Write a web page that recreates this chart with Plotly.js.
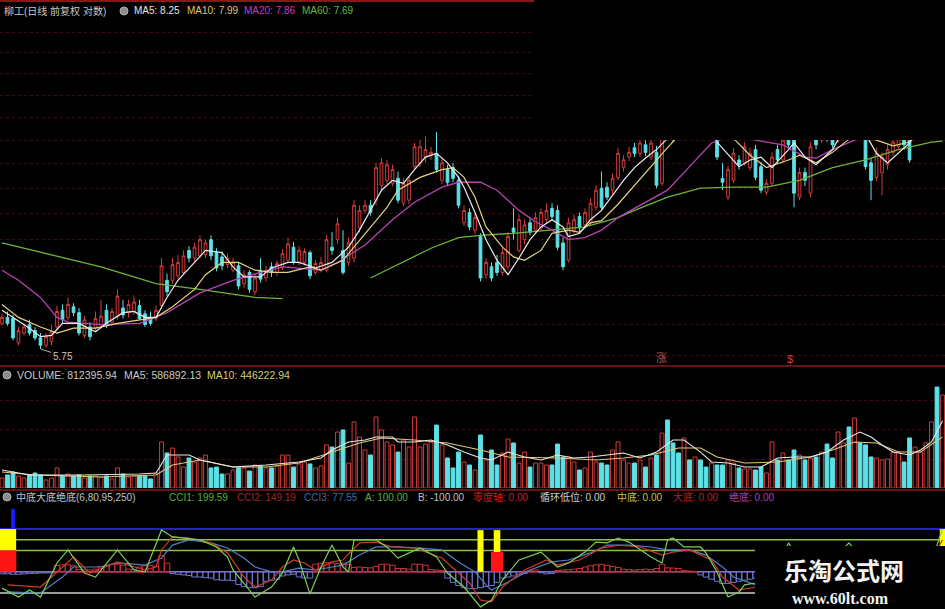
<!DOCTYPE html>
<html><head><meta charset="utf-8">
<script src="https://cdn.plot.ly/plotly-3.0.1.min.js"></script>
<style>html,body{margin:0;padding:0;background:#000;}#chart{width:945px;height:609px;}</style>
</head><body><div id="chart"></div>
<script>
// ---------- DATA ----------
const N = 172;
const openP = [5.96,6.01,6.00,5.80,5.88,5.95,5.90,5.84,5.78,5.81,5.93,6.07,6.01,6.10,6.05,5.86,5.93,5.92,5.95,6.07,5.97,6.02,6.09,6.05,6.06,6.11,6.04,6.01,6.00,6.11,6.33,6.33,6.37,6.40,6.60,6.53,6.55,6.56,6.70,6.58,6.54,6.47,6.42,6.46,6.30,6.40,6.23,6.42,6.35,6.45,6.40,6.45,6.51,6.63,6.49,6.49,6.58,6.40,6.42,6.42,6.63,6.70,6.60,6.49,6.53,6.81,6.98,7.03,7.08,7.23,7.28,7.25,7.30,7.05,7.08,7.42,7.46,7.52,7.54,7.56,7.28,7.39,7.41,7.28,6.86,6.96,6.79,6.73,6.38,6.45,6.49,6.40,6.45,6.81,6.60,6.70,6.86,6.79,6.81,6.89,7.00,6.98,6.67,6.51,6.79,6.92,6.84,6.86,7.01,7.20,7.21,7.18,7.31,7.41,7.52,7.62,7.56,7.65,7.52,7.57,7.25,7.98,7.92,7.94,7.87,8.09,7.98,8.15,8.03,7.87,7.83,7.30,7.11,7.28,7.49,7.46,7.41,7.60,7.42,7.16,7.25,7.60,7.49,7.81,7.76,7.11,7.36,7.15,7.81,7.70,7.87,7.81,7.70,7.81,7.94,7.81,7.98,7.81,7.46,7.31,7.36,7.44,7.57,7.63,7.83,7.76,7.72,7.81,7.90,8.03,8.24,8.01];
const highP = [6.04,6.06,6.03,5.93,5.96,5.99,5.93,5.88,5.88,5.95,6.11,6.12,6.18,6.13,6.09,6.02,5.97,6.06,6.16,6.12,6.09,6.25,6.16,6.16,6.19,6.16,6.07,6.06,6.11,6.53,6.39,6.53,6.56,6.60,6.64,6.67,6.74,6.70,6.74,6.62,6.59,6.57,6.53,6.49,6.42,6.42,6.39,6.53,6.46,6.49,6.51,6.61,6.72,6.68,6.64,6.62,6.60,6.51,6.54,6.74,6.77,6.91,6.79,6.72,7.08,7.03,7.08,7.08,7.46,7.51,7.49,7.44,7.37,7.30,7.32,7.67,7.70,7.74,7.63,7.79,7.51,7.44,7.46,7.32,7.03,7.00,6.95,6.76,6.53,6.49,6.56,6.62,6.77,7.00,6.94,6.89,6.91,6.96,7.00,7.05,7.05,7.03,6.72,6.91,6.94,6.96,7.00,7.10,7.23,7.37,7.26,7.35,7.62,7.54,7.63,7.67,7.72,7.70,7.72,7.64,7.81,8.03,7.98,8.00,8.20,8.15,8.26,8.20,8.09,8.15,7.89,7.46,7.43,7.62,7.54,7.68,7.62,7.65,7.47,7.29,7.57,7.65,7.76,7.87,7.81,7.41,7.41,7.68,7.87,7.92,7.92,7.87,7.98,8.03,8.00,8.07,8.03,7.87,7.51,7.62,7.57,7.65,7.74,7.83,7.89,7.81,8.03,8.11,8.20,8.32,8.28,8.38];
const lowP = [5.94,5.94,5.82,5.78,5.86,5.86,5.82,5.75,5.76,5.78,5.90,5.96,5.99,6.02,5.86,5.84,5.82,5.90,5.92,5.92,5.94,5.99,6.00,6.01,6.03,5.99,5.93,5.94,5.98,6.08,6.19,6.30,6.34,6.38,6.49,6.49,6.53,6.53,6.51,6.41,6.42,6.44,6.40,6.25,6.26,6.22,6.20,6.31,6.32,6.36,6.37,6.42,6.49,6.47,6.46,6.46,6.34,6.38,6.40,6.40,6.56,6.66,6.38,6.46,6.49,6.77,6.95,6.93,7.03,7.18,7.24,7.22,7.05,7.02,7.04,7.39,7.42,7.46,7.49,7.36,7.24,7.22,7.26,7.00,6.83,6.79,6.75,6.32,6.34,6.32,6.37,6.37,6.42,6.70,6.58,6.66,6.74,6.76,6.78,6.85,6.88,6.60,6.42,6.49,6.76,6.77,6.81,6.83,6.98,6.98,7.08,7.14,7.28,7.37,7.48,7.52,7.52,7.53,7.49,7.20,7.22,7.70,7.68,7.75,7.83,7.87,7.92,7.90,7.76,7.83,7.49,7.18,7.08,7.25,7.39,7.43,7.38,7.28,7.15,7.13,7.22,7.46,7.46,7.62,7.01,7.08,7.22,7.11,7.60,7.67,7.68,7.62,7.67,7.77,7.72,7.77,7.72,7.39,7.08,7.27,7.13,7.39,7.53,7.60,7.60,7.46,7.70,7.78,7.87,8.00,7.90,7.98];
const closeP = [6.01,5.96,5.84,5.90,5.93,5.88,5.84,5.78,5.85,5.89,6.06,5.99,6.12,6.05,5.88,5.99,5.85,6.00,6.02,5.95,6.06,6.19,6.03,6.12,6.14,6.00,5.95,5.96,6.07,6.46,6.23,6.47,6.49,6.55,6.53,6.63,6.70,6.67,6.55,6.44,6.46,6.53,6.49,6.28,6.38,6.25,6.35,6.34,6.42,6.40,6.48,6.57,6.66,6.49,6.60,6.59,6.37,6.48,6.49,6.70,6.60,6.85,6.40,6.67,7.03,6.98,7.03,6.96,7.41,7.46,7.44,7.39,7.08,7.25,7.28,7.63,7.63,7.60,7.57,7.39,7.46,7.26,7.30,7.03,6.98,6.82,6.91,6.35,6.49,6.35,6.40,6.58,6.73,6.77,6.89,6.84,6.77,6.91,6.96,6.98,6.92,6.63,6.45,6.86,6.89,6.81,6.96,7.05,7.18,7.01,7.11,7.30,7.56,7.49,7.57,7.56,7.67,7.57,7.67,7.23,7.76,7.76,7.72,7.79,8.15,7.92,8.20,7.94,7.81,8.09,7.52,7.26,7.39,7.56,7.44,7.63,7.56,7.31,7.18,7.25,7.52,7.49,7.70,7.65,7.15,7.36,7.28,7.63,7.65,7.87,7.72,7.65,7.92,7.98,7.76,8.01,7.76,7.42,7.28,7.56,7.52,7.60,7.68,7.78,7.65,7.49,7.98,8.06,8.15,8.26,7.92,8.32];
const volume = [87000,114000,140000,105000,87000,114000,131000,114000,70000,87000,175000,105000,122000,105000,114000,87000,105000,105000,96000,105000,79000,175000,122000,96000,105000,105000,105000,79000,131000,402000,306000,349000,271000,183000,262000,227000,262000,288000,175000,183000,122000,122000,157000,175000,175000,148000,201000,192000,175000,175000,192000,288000,288000,183000,210000,227000,210000,175000,192000,376000,358000,489000,507000,218000,577000,445000,332000,288000,620000,507000,402000,376000,314000,419000,358000,620000,358000,384000,402000,550000,376000,262000,175000,314000,227000,201000,157000,463000,245000,332000,201000,306000,428000,393000,218000,314000,183000,218000,218000,201000,201000,384000,271000,271000,227000,157000,175000,314000,227000,218000,201000,332000,402000,245000,218000,218000,245000,183000,262000,288000,480000,594000,393000,306000,437000,245000,271000,245000,183000,218000,201000,201000,245000,218000,175000,166000,166000,157000,183000,131000,402000,245000,306000,245000,332000,288000,245000,262000,271000,314000,384000,262000,489000,393000,533000,611000,393000,376000,271000,262000,245000,253000,314000,314000,227000,437000,358000,314000,393000,577000,882000,812395.94];

const ma5X = [0,5,7,9,11,14,17,19,22,24,26,28,30,32,35,37,40,42,44,47,49,52,54,57,60,63,65,67,69,71,73,75,77,79,81,83,84,86,88,90,92,94,96,98,100,102,103,105,107,109,111,113,115,117,119,121,124,127,129,130,134,136,138,140,143,144,146,148,151,153,156,159,161,163,165,168,171];
const ma5V = [6.07,5.92,5.85,5.86,5.96,5.96,5.89,5.96,6.05,6.06,6.01,6.01,6.18,6.33,6.49,6.60,6.58,6.45,6.36,6.36,6.44,6.49,6.49,6.44,6.49,6.63,6.79,6.98,7.18,7.28,7.25,7.39,7.52,7.56,7.46,7.31,7.21,6.96,6.70,6.51,6.38,6.53,6.70,6.82,6.89,6.82,6.73,6.76,6.89,6.98,7.13,7.28,7.41,7.51,7.60,7.72,7.92,8.03,7.98,7.68,7.42,7.49,7.52,7.41,7.60,7.67,7.52,7.44,7.60,7.81,7.87,7.56,7.46,7.56,7.67,7.98,8.25];
const ma10X = [0,3,7,10,13,17,21,25,28,31,35,37,40,43,46,49,52,56,58,62,66,70,72,76,80,82,84,86,88,91,93,95,98,100,103,105,107,109,112,115,118,121,124,127,130,133,136,139,143,145,148,151,155,159,162,165,168,171];
const ma10V = [6.12,6.01,5.93,5.88,5.92,5.92,5.96,5.99,6.01,6.10,6.25,6.38,6.49,6.49,6.42,6.40,6.40,6.45,6.42,6.51,6.76,7.01,7.18,7.31,7.39,7.41,7.31,7.11,6.82,6.63,6.54,6.51,6.60,6.76,6.79,6.77,6.86,6.88,7.04,7.23,7.43,7.62,7.81,7.94,7.92,7.72,7.54,7.41,7.49,7.54,7.46,7.57,7.76,7.70,7.64,7.68,7.83,7.99];
const ma20X = [0,3,7,10,12,18,25,28,30,36,42,47,51,58,61,66,71,75,80,83,87,90,94,97,100,103,106,109,112,115,121,125,129,133,137,142,146,148,151,155,160,165,171];
const ma20V = [6.42,6.33,6.18,6.01,5.97,5.95,5.96,6.01,6.05,6.22,6.33,6.40,6.45,6.42,6.49,6.65,6.89,7.06,7.21,7.26,7.26,7.18,6.98,6.87,6.79,6.70,6.72,6.79,6.91,7.00,7.18,7.42,7.67,7.76,7.70,7.65,7.52,7.51,7.60,7.70,7.79,7.83,7.86];
const ma60X = [0,9,18,28,36,46,51,52,67,72,78,83,87,93,100,106,112,115,121,127,133,139,145,151,157,163,169,171];
const ma60V = [6.67,6.56,6.45,6.30,6.25,6.18,6.17,null,6.35,6.47,6.62,6.72,6.74,6.76,6.79,6.82,6.91,6.98,7.11,7.20,7.21,7.21,7.28,7.41,7.49,7.60,7.68,7.69];

const vma5X = [0,5,15,25,28,30,34,36,42,48,54,58,60,63,66,68,71,72,75,78,81,84,87,89,92,95,98,101,104,107,110,113,116,119,122,124,127,129,132,135,138,141,144,147,150,153,156,158,160,162,165,167,169,171];
const vma5V = [157000,114000,114000,122000,131000,288000,288000,245000,183000,201000,227000,262000,332000,402000,419000,445000,445000,402000,402000,419000,376000,314000,262000,245000,314000,271000,245000,288000,262000,271000,288000,306000,262000,314000,419000,419000,314000,227000,218000,183000,183000,262000,271000,271000,314000,419000,489000,445000,376000,314000,288000,332000,402000,586892.13];
const vma10X = [0,6,18,28,31,36,42,48,54,60,65,69,75,81,87,92,101,108,113,118,123,127,130,135,141,147,151,155,159,163,167,171];
const vma10V = [140000,114000,96000,114000,201000,245000,183000,183000,218000,314000,393000,437000,419000,393000,332000,271000,262000,245000,262000,288000,349000,349000,271000,218000,227000,271000,332000,402000,393000,314000,314000,446222.94];

const cci1X = [0,3,5,7,10,12,15,17,21,24,26,29,31,36,39,41,42,45,46,49,51,53,54,56,58,60,62,63,64,68,70,72,76,79,81,84,86,87,89,91,94,98,101,103,106,108,110,112,114,116,118,120,121,122,124,127,128,130,132,134,135,137,140,143,146,150,154,158,163,167,170,171];
const cci1V = [-77,-119,-86,-119,41,102,-6,-25,102,8,-1,196,163,149,116,69,8,-86,-119,-72,-6,116,55,-105,22,125,22,-1,149,149,116,64,111,69,-6,-72,-133,-165,-133,-39,55,92,22,41,92,139,135,158,139,102,69,41,149,158,116,116,88,-1,-119,-95,-62,-53,-15,135,8,31,135,8,-86,-39,125,199.59];
const cci2X = [1,7,11,13,16,21,26,28,29,31,34,38,41,44,46,49,51,53,55,57,60,62,65,68,71,75,80,83,85,87,89,91,95,99,101,105,109,112,116,120,122,125,129,131,134,137,141,145,150,155,160,165,169,171];
const cci2V = [-62,-72,22,69,-6,46,8,22,102,163,158,135,88,-25,-72,-39,22,55,41,8,46,55,135,139,116,111,64,-6,-53,-133,-142,-72,8,55,31,55,111,125,116,78,92,102,55,-25,-86,-72,8,78,55,102,31,-39,55,149.19];
const cci3X = [1,7,11,13,18,21,26,29,31,34,38,41,44,46,49,51,54,57,60,62,65,68,72,76,80,83,86,88,89,92,96,100,103,107,110,114,118,121,125,128,131,133,137,141,147,152,158,163,168,171];
const cci3V = [-95,-100,-25,22,22,41,31,64,125,149,135,111,64,22,-1,-1,17,8,22,31,78,116,116,111,102,46,-1,-62,-86,-48,8,46,55,88,125,125,116,102,102,78,22,-25,-62,-39,31,55,31,-15,8,77.55];
const hist = [-10,-10,-12,-12,-10,-8,-8,-6,-6,-5,
  30,32,32,28,10,8,8,12,25,30,
  35,35,30,12,10,22,28,30,25,75,
  40,-8,-12,-15,-18,-25,-25,-28,-30,-38,
  -40,-40,-42,-60,-70,-75,-75,-70,-45,-40,
  -35,-20,-15,-12,-25,-30,-30,35,40,42,
  40,38,40,35,20,22,20,18,25,35,
  35,30,15,15,12,35,35,30,10,8,
  5,-30,-50,-65,-75,-80,-80,-75,-70,-65,
  -50,-30,-25,-20,-12,-8,5,8,-5,-10,
  -8,5,8,10,12,15,22,28,32,35,
  30,25,20,12,10,8,10,12,10,15,
  35,18,17,15,5,3,0,-15,-25,-35,
  -45,-55,-55,-50,-45,-40,-35,-30,-25,-20,
  -15,-10,5,12,15,10,5,-5,-10,-8,
  -5,10,15,20,22,20,15,10,5,-5,
  -10,-20,-25,-20,-15,-10,-5,10,25,40,
  55,60];

const sigYellowX = [0,1,2,87,90,171];
const sigYellowLo = [100,100,100,0,92,100];
const sigYellowHi = [200,200,200,195,195,200];
const sigRedX = [0,1,2,90];
const sigRedLo = [0,0,0,0];
const sigRedHi = [100,100,100,92];
const sigBlueX = [2];
const sigBlueLo = [205];
const sigBlueHi = [295];
const levels = [200,150,100,0,-100];
const priceGrid = [5.70,5.95,6.20,6.45,6.70,6.95,7.20,7.45,7.70,7.95,8.20,8.45,8.70,8.95,9.20];
const volGrid = [253000,507000,760000];

// ---------- STYLE ----------
const RED = '#d23c3c', CYAN = '#5ce1e6';
const idx = Array.from({length:N},(_,i)=>i);
const up = idx.map(i => closeP[i] >= openP[i]);
const px = x => x/945, py = y => 1 - y/609;

const traces = [];
traces.push({type:'candlestick', x:idx, open:openP, high:highP, low:lowP, close:closeP,
  xaxis:'x', yaxis:'y', hoverinfo:'none', whiskerwidth:0,
  increasing:{line:{color:RED,width:1}, fillcolor:'#000'},
  decreasing:{line:{color:CYAN,width:1}, fillcolor:CYAN}});
const lineT = (x,y,color,ya,w) => ({type:'scatter',mode:'lines',x:x,y:y,xaxis:'x',yaxis:ya,
  line:{color:color,width:w||1.2},hoverinfo:'none',connectgaps:false});
traces.push(lineT(ma60X, ma60V, '#6fb43a','y',1.3));
traces.push(lineT(ma20X, ma20V, '#b544b5','y',1.3));
traces.push(lineT(ma10X, ma10V, '#e2d27e','y',1.2));
traces.push(lineT(ma5X, ma5V, '#ececec','y',1.2));

traces.push({type:'bar', x:idx, y:volume, xaxis:'x', yaxis:'y2', width:0.7, hoverinfo:'none',
  marker:{color: up.map(u => u ? 'rgba(0,0,0,0)' : CYAN),
          line:{color: up.map(u => u ? RED : CYAN), width:1}}});
traces.push(lineT(vma10X, vma10V, '#e0c878','y2',1.1));
traces.push(lineT(vma5X, vma5V, '#e8e8e8','y2',1.1));

traces.push({type:'bar', x:idx, y:hist, xaxis:'x', yaxis:'y3', width:1, hoverinfo:'none',
  marker:{color:'rgba(0,0,0,0)', line:{color: hist.map(v => v >= 0 ? '#c83232' : '#6a78d0'), width:1}}});
traces.push({type:'bar', x:sigYellowX, y:sigYellowHi.map((h,k)=>h-sigYellowLo[k]), base:sigYellowLo,
  xaxis:'x', yaxis:'y3', width:[1.15,1.15,1.15,1.1,1.2,1.0], hoverinfo:'none',
  marker:{color:'#ffff00', line:{width:0}}});
traces.push({type:'bar', x:sigRedX, y:sigRedHi.map((h,k)=>h-sigRedLo[k]), base:sigRedLo,
  xaxis:'x', yaxis:'y3', width:[1.2,1.2,1.2,2.2], hoverinfo:'none',
  marker:{color:'#ff1414', line:{width:0}}});
traces.push({type:'bar', x:sigBlueX, y:sigBlueHi.map((h,k)=>h-sigBlueLo[k]), base:sigBlueLo,
  xaxis:'x', yaxis:'y3', width:0.7, hoverinfo:'none',
  marker:{color:'#1a1aff', line:{width:0}}});
traces.push(lineT(cci3X, cci3V, '#4f7fc8','y3',1.2));
traces.push(lineT(cci2X, cci2V, '#d03a2a','y3',1.2));
traces.push(lineT(cci1X, cci1V, '#7ccf5a','y3',1.2));

const levelColors = ['#2323c8','#8fbf4a','#8fbf4a','#c050c0','#cfcfcf'];
const levelWidths = [2,1.5,1.5,1.5,1.5];
const shapes = levels.map((v,k) => ({type:'line', xref:'paper', yref:'y3', x0:0, x1:1, y0:v, y1:v,
  layer:'below', line:{color:levelColors[k], width:levelWidths[k]}}));
shapes.push({type:'rect', xref:'paper', yref:'paper', x0:px(534), x1:1, y0:py(140), y1:1,
  fillcolor:'#000', line:{width:0}, layer:'above'});
shapes.push({type:'line', xref:'paper', yref:'paper', x0:0, x1:px(534), y0:py(1), y1:py(1), line:{color:'#8a1616', width:2}, layer:'above'});
shapes.push({type:'line', xref:'paper', yref:'paper', x0:0, x1:1, y0:py(366), y1:py(366), line:{color:'#8a1a1a', width:1.5}, layer:'above'});
shapes.push({type:'line', xref:'paper', yref:'paper', x0:0, x1:1, y0:py(490), y1:py(490), line:{color:'#8a1a1a', width:1.5}, layer:'above'});
shapes.push({type:'rect', xref:'paper', yref:'paper', x0:px(755), x1:1, y0:0, y1:py(546),
  fillcolor:'#000', line:{width:0}, layer:'above'});
[[124,11],[7,375],[7,497]].forEach(c => shapes.push({type:'circle', xref:'paper', yref:'paper',
  x0:px(c[0]-4), x1:px(c[0]+4), y0:py(c[1]+4), y1:py(c[1]-4), fillcolor:'#8c8c8c', line:{color:'#b0b0b0',width:1}, layer:'above'}));

const FONT = 'Liberation Sans, Noto Sans CJK SC, sans-serif';
const txt = (x,y,t,color,size) => ({xref:'paper', yref:'paper', x:px(x), y:py(y), text:t, showarrow:false,
  xanchor:'left', yanchor:'middle', font:{family:FONT, size:size||10, color:color}});
const ann = [
  txt(2,11,'柳工(日线 前复权 对数)','#c8c8c8',10),
  txt(132,11,'MA5: 8.25','#e6e6e6'),
  txt(185,11,'MA10: 7.99','#d8cc78'),
  txt(242,11,'MA20: 7.86','#c040c0'),
  txt(300,11,'MA60: 7.69','#66b83a'),
  txt(15,375,'VOLUME: 812395.94','#c8c8c8',10.5),
  txt(122,375,'MA5: 586892.13','#c8c8c8',10.5),
  txt(205,375,'MA10: 446222.94','#d8cc78',10.5),
  txt(14,497,'中底大底绝底(6,80,95,250)','#c0c0c0'),
  txt(167,497,'CCI1: 199.59','#5cae3c'),
  txt(235,497,'CCI2: 149.19','#a82626'),
  txt(302,497,'CCI3: 77.55','#4e66a0'),
  txt(363,497,'A: 100.00','#5cae3c'),
  txt(416,497,'B: -100.00','#c0c0c0'),
  txt(471,497,'零度轴: 0.00','#c82020'),
  txt(538,497,'循环低位: 0.00','#d0d0d0'),
  txt(615,497,'中底: 0.00','#c8c050'),
  txt(671,497,'大底: 0.00','#b82020'),
  txt(727,497,'绝底: 0.00','#a840b8'),
  txt(654,358,'涨','#c84848',11),
  txt(785,359,'$','#c84848',11),
  {xref:'x', yref:'y', x:7, y:Math.log10(lowP[7]), text:lowP[7].toFixed(2), showarrow:true, arrowhead:0,
   arrowcolor:'#b0b0b0', arrowwidth:1, ax:22, ay:7, standoff:0, font:{family:FONT,size:10,color:'#c8c8c8'}},
  {xref:'paper', yref:'paper', x:px(844), y:py(569), text:'<b>乐淘公式网</b>', showarrow:false,
   xanchor:'center', yanchor:'middle', font:{family:'Noto Sans CJK SC', size:24, color:'#f2f2f2'}},
  {xref:'paper', yref:'paper', x:px(840), y:py(598), text:'<b>www.60lt.com</b>', showarrow:false,
   xanchor:'center', yanchor:'middle', font:{family:'Liberation Serif, DejaVu Serif, serif', size:16, color:'#f2f2f2'}}
];

const layout = {
  width:945, height:609, margin:{l:0,r:0,t:0,b:0,pad:0}, paper_bgcolor:'#000', plot_bgcolor:'#000',
  showlegend:false, barmode:'overlay', dragmode:false,
  xaxis:{range:[-0.364,171.45], visible:false, rangeslider:{visible:false}, fixedrange:true},
  yaxis:{type:'log', domain:[0.4007,0.9803], range:[Math.log10(5.623),Math.log10(9.212)],
    tickvals:priceGrid, showticklabels:false, ticks:'', showgrid:true, gridcolor:'#3c0a0a', griddash:'dot',
    gridwidth:1, zeroline:false, showline:false, fixedrange:true},
  yaxis2:{domain:[0.19869,0.39901], range:[0,1065700], tickvals:volGrid, showticklabels:false, ticks:'',
    showgrid:true, gridcolor:'#3c0a0a', griddash:'dot', zeroline:false, showline:false, fixedrange:true},
  yaxis3:{domain:[0,0.1708], range:[-175,313], showgrid:false, showticklabels:false, ticks:'',
    zeroline:false, showline:false, fixedrange:true},
  shapes:shapes, annotations:ann
};
Plotly.newPlot('chart', traces, layout, {staticPlot:true, displayModeBar:false});
</script></body></html>
